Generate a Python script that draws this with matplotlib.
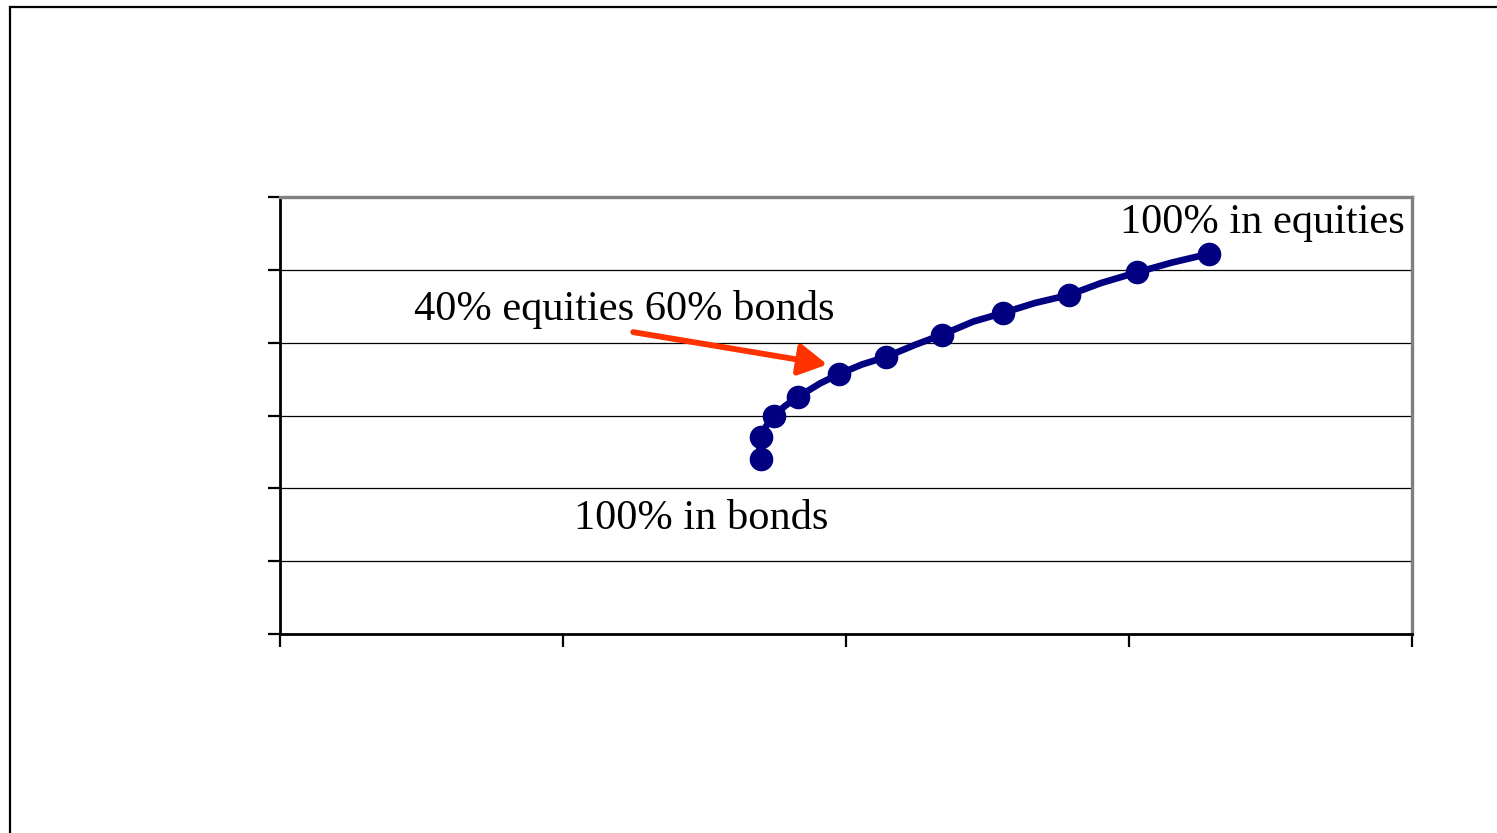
import matplotlib
matplotlib.use("Agg")
import matplotlib.pyplot as plt
import matplotlib.patches as patches

# Efficient frontier: risk (std dev, %) vs. expected return (%), 5% allocation steps
equity_share = [0, 5, 10, 15, 20, 25, 30, 35, 40, 45, 50,
                55, 60, 65, 70, 75, 80, 85, 90, 95, 100]
risk = [8.49, 8.47, 8.49, 8.59, 8.72, 8.93, 9.16, 9.54, 9.88, 10.28, 10.71,
        11.22, 11.70, 12.25, 12.78, 13.34, 13.94, 14.51, 15.14, 15.76, 16.41]
ret = [4.81, 5.11, 5.41, 5.71, 5.99, 6.27, 6.52, 6.88, 7.14, 7.40, 7.61,
       7.94, 8.22, 8.58, 8.82, 9.09, 9.31, 9.64, 9.93, 10.20, 10.44]

x_ticks = [0, 5, 10, 15, 20]
y_ticks = [0, 2, 4, 6, 8, 10, 12]

NAVY = "#000080"
ARROW = "#ff3300"
SERIF = ["Liberation Serif", "DejaVu Serif"]

W, H = 1497, 833
fig = plt.figure(figsize=(W / 100, H / 100), dpi=100)

# outer chart frame (runs off the right and bottom edge)
fig.patches.append(patches.Rectangle((10 / W, -0.1), 1.2, (H - 7) / H + 0.1,
                                     transform=fig.transFigure, fill=False,
                                     edgecolor="black", linewidth=1.6))

ax = fig.add_axes([280 / W, (H - 634) / H, (1412 - 280) / W, (634 - 197) / H])

# plot every allocation step, marker on each 10% step
ax.plot(risk, ret, color=NAVY, linewidth=4.8, solid_joinstyle="round",
        solid_capstyle="round", zorder=3)
marked = [i for i, s in enumerate(equity_share) if s % 10 == 0]
ax.plot([risk[i] for i in marked], [ret[i] for i in marked], linestyle="none",
        marker="o", markersize=16, color=NAVY, zorder=4)

ax.set_xlim(x_ticks[0], x_ticks[-1])
ax.set_ylim(y_ticks[0], y_ticks[-1])
ax.set_xticks(x_ticks)
ax.set_yticks(y_ticks)
ax.set_xticklabels([])
ax.set_yticklabels([])
ax.tick_params(axis="x", direction="out", length=9, width=1.6, color="black")
ax.tick_params(axis="y", direction="out", length=9, width=1.6, color="black")
ax.yaxis.grid(True, color="black", linewidth=0.9)
ax.set_axisbelow(True)

for side in ("top", "right"):
    ax.spines[side].set_color("#808080")
    ax.spines[side].set_linewidth(2.4)
for side in ("left", "bottom"):
    ax.spines[side].set_color("black")
    ax.spines[side].set_linewidth(2.0)

# annotations
ax.text(17.35, 11.29, "100% in equities", family=SERIF, fontsize=30.5,
        ha="center", va="center")
ax.text(7.44, 3.16, "100% in bonds", family=SERIF, fontsize=30.5,
        ha="center", va="center")
ax.text(6.08, 8.90, "40% equities 60% bonds", family=SERIF, fontsize=30.5,
        ha="center", va="center")
ax.annotate("", xy=(9.67, 7.40), xytext=(6.24, 8.29),
            arrowprops=dict(arrowstyle="-|>,head_length=1.7,head_width=0.95",
                            color=ARROW, linewidth=4.2, shrinkA=0, shrinkB=0))

fig.savefig("out.png", dpi=100)
